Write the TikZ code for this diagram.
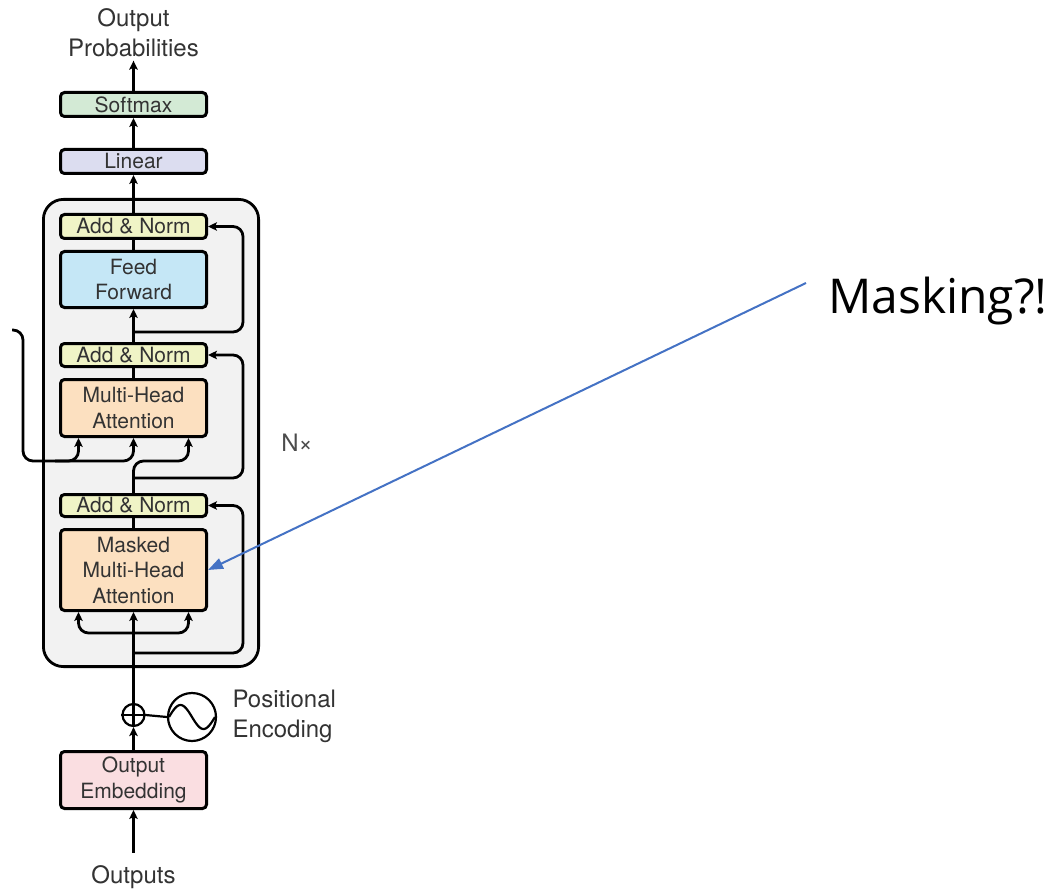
\documentclass[tikz,border=0pt]{standalone}
\usepackage{fontspec}
\setmainfont{TeX Gyre Heros}
\newfontfamily\calloutfont{Open Sans}
\usetikzlibrary{arrows.meta,calc}

\definecolor{txtgray}{HTML}{333333}
\definecolor{stackgray}{HTML}{F2F2F2}
\definecolor{normfill}{HTML}{F0F4C6}
\definecolor{fffill}{HTML}{C5E7F6}
\definecolor{attnfill}{HTML}{FCE0C0}
\definecolor{softfill}{HTML}{D3EAD5}
\definecolor{linfill}{HTML}{DCDDF0}
\definecolor{embfill}{HTML}{FADEE1}
\definecolor{callblue}{HTML}{4472C4}

\begin{document}
\begin{tikzpicture}[x=1pt,y=-1pt,
  block/.style={draw=black, line width=3pt, rounded corners=4pt,
    minimum width=146pt, inner sep=0pt, align=center, text=txtgray,
    font=\fontsize{21}{25.5}\selectfont},
  lbl/.style={text=txtgray, align=center, font=\fontsize{24}{30}\selectfont},
  link/.style={line width=2.8pt},
  arr/.style={link, -{Stealth[length=9pt,width=8.5pt,inset=2pt]}},
  thin/.style={line width=2.2pt},
  callarrow/.style={draw=callblue, line width=2pt,
    -{Triangle[length=15pt,width=11pt]}}]

\useasboundingbox (0,0) rectangle (1054,893);

% decoder layer stack
\draw[line width=2.8pt, fill=stackgray, rounded corners=20pt]
  (43.4,199.4) rectangle (258.6,666.6);

% blocks
\node[block, fill=softfill, minimum height=24pt] (softmax) at (133.5,104.5) {Softmax};
\node[block, fill=linfill,  minimum height=24pt] (linear)  at (133.5,161.5) {Linear};
\node[block, fill=normfill, minimum height=24pt] (an3)     at (133.5,226.5) {Add \& Norm};
\node[block, fill=fffill,   minimum height=56pt] (ff)      at (133.5,279.5) {Feed\\Forward};
\node[block, fill=normfill, minimum height=23pt] (an2)     at (133.5,355)   {Add \& Norm};
\node[block, fill=attnfill, minimum height=57pt] (mha)     at (133.5,408)   {Multi-Head\\Attention};
\node[block, fill=normfill, minimum height=22pt] (an1)     at (133.5,505.5) {Add \& Norm};
\node[block, fill=attnfill, minimum height=81pt] (mmha)    at (133.5,570)   {Masked\\Multi-Head\\Attention};
\node[block, fill=embfill,  minimum height=57pt] (emb)     at (133.5,780)   {Output\\Embedding};

% labels
\node[lbl] (prob) at (133.5,33) {Output\\Probabilities};
\node[lbl] (outputs) at (133.5,877) {Outputs};
\node[lbl, anchor=west, align=left] (pos) at (229,716) {Positional\\Encoding};
\node[lbl, text=black!70] (nx) at (297,443) {N×};
\node[anchor=base west, inner sep=0pt, text=black,
  font=\calloutfont\fontsize{48}{58}\selectfont] (mask) at (828,313) {Masking?!};

% positional encoding
\node[draw, thin, circle, minimum size=22pt, inner sep=0pt] (plus) at (133.5,715) {};
\draw[thin] (plus.north) -- (plus.south) (plus.west) -- (plus.east);
\node[draw, thin, circle, minimum size=48pt, inner sep=0pt] (sine) at (192,717) {};
\draw[thin, shift={(sine.center)}]
  plot[domain=-1:1, samples=40, smooth] ({23*\x},{12*sin(180*\x)});
\draw[thin] (plus.east) -- (sine.west);

% branch points
\coordinate (rx) at (243,0);
\coordinate (r1) at (133.5,653);
\coordinate (j1) at (133.5,633);
\coordinate (r2) at (133.5,478);
\coordinate (r3) at (133.5,332);
\coordinate (enc) at (12,330);
\coordinate (ex) at (23,461);
\coordinate (j2) at (55,461);
\coordinate (mstart) at (806,283);

% main data path
\draw[arr, shorten <=9pt] (outputs.north) -- (emb.south);
\draw[arr] (emb.north) -- (plus.south);
\draw[arr] (plus.north) -- (mmha.south);
\draw[arr, rounded corners=10pt] (j1) -| ($(mmha.south)+(-55,0)$);
\draw[arr, rounded corners=10pt] (j1) -| ($(mmha.south)+(55,0)$);
\draw[arr, rounded corners=10pt] (r1) -| (rx |- an1.east) -- (an1.east);
\draw[link] (mmha.north) -- (an1.south);

\draw[arr, rounded corners=10pt] (an1.north) -- ++(0,-32) -| ($(mha.south)+(55,0)$);
\draw[arr, rounded corners=10pt] (r2) -| (rx |- an2.east) -- (an2.east);
\draw[arr, rounded corners=10pt] (enc) -| (ex) -| (mha.south);
\draw[arr, rounded corners=10pt] (j2) -| ($(mha.south)+(-55,0)$);
\draw[link] (mha.north) -- (an2.south);

\draw[arr] (an2.north) -- (ff.south);
\draw[arr, rounded corners=10pt] (r3) -| (rx |- an3.east) -- (an3.east);
\draw[link] (ff.north) -- (an3.south);

\draw[arr] (an3.north) -- (linear.south);
\draw[arr] (linear.north) -- (softmax.south);
\draw[arr] (softmax.north) -- (prob.south);

% callout
\draw[callarrow] (mstart) -- (mmha.east);
\end{tikzpicture}
\end{document}
